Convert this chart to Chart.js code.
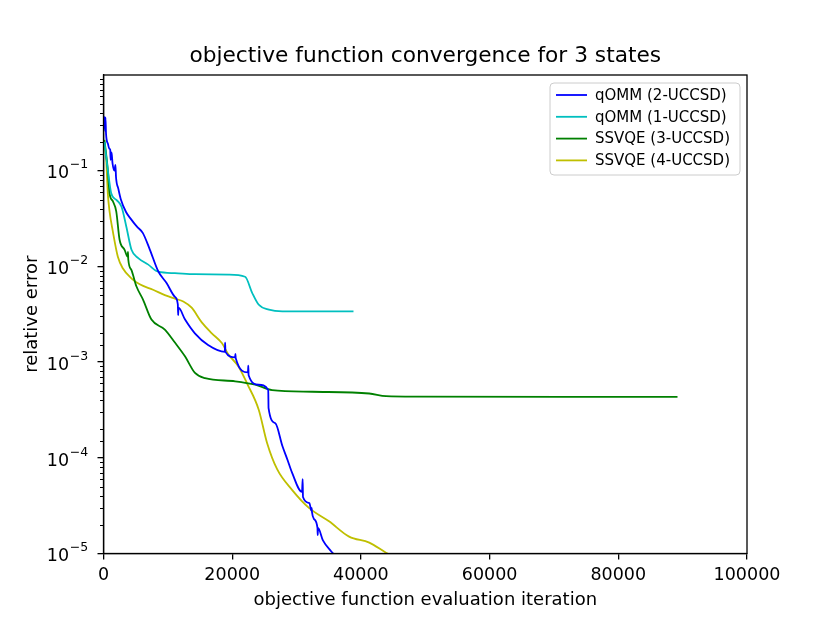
<!DOCTYPE html>
<html>
<head>
<meta charset="utf-8">
<script src="https://cdn.jsdelivr.net/npm/chart.js@4.4.1/dist/chart.umd.min.js"></script>
<style>
  html, body { margin: 0; padding: 0; background: #fff; }
  canvas { display: block; }
</style>
</head>
<body>
<canvas id="grafico" width="830" height="623"></canvas>
<script>
// series (x = evaluation iteration, y = relative error)
const qommTwoIter = [80, 250, 300, 400, 700, 900, 1050, 1100, 1250, 1400, 1700, 1850, 1950, 2300, 2700, 3500, 4300, 5200, 6100, 7200, 8500, 9800, 11100, 11550, 11600, 11650, 12650, 14200, 16250, 18850, 18900, 18950, 20450, 20500, 20550, 22450, 22500, 22550, 24100, 25600, 25650, 26700, 27800, 28600, 29300, 30850, 30950, 31000, 32000, 32300, 32350, 32400, 32700, 33250, 33290, 33330, 34100, 35400, 35800];
const qommTwoErr = [0.37, 0.26, 0.36, 0.24, 0.19, 0.17, 0.165, 0.13, 0.155, 0.12, 0.10, 0.115, 0.085, 0.065, 0.05, 0.037, 0.031, 0.026, 0.0224, 0.015, 0.0089, 0.0067, 0.0048, 0.0040, 0.0031, 0.0037, 0.0028, 0.0020, 0.00151, 0.00128, 0.0016, 0.00128, 0.00112, 0.00122, 0.00110, 0.00078, 0.00092, 0.00073, 0.00058, 0.00051, 0.00033, 0.00023, 0.000133, 0.000095, 0.00007, 0.000044, 0.00006, 0.000039, 0.0000337, 0.000028, 0.0000299, 0.000027, 0.000023, 0.0000185, 0.0000156, 0.0000185, 0.0000137, 0.0000105, 0.0000098];

const qommOneIter = [150, 670, 1200, 2000, 2800, 3550, 4350, 5400, 6900, 8500, 11100, 14200, 19400, 22000, 23100, 24100, 25700, 27800, 38850];
const qommOneErr = [0.20, 0.102, 0.058, 0.0496, 0.042, 0.026, 0.0149, 0.0122, 0.0105, 0.0088, 0.0085, 0.0083, 0.0082, 0.0078, 0.0053, 0.0040, 0.00353, 0.00339, 0.00339];

const ssvqeThreeIter = [150, 670, 940, 1450, 1980, 2500, 3280, 3750, 3800, 3850, 4330, 5110, 6140, 7450, 9530, 11100, 12660, 14220, 15780, 20470, 23590, 26200, 32450, 41300, 43900, 48600, 89200];
const ssvqeThreeErr = [0.21, 0.102, 0.058, 0.048, 0.0376, 0.019, 0.0149, 0.0126, 0.0142, 0.0118, 0.0092, 0.0062, 0.0045, 0.00278, 0.00219, 0.0016, 0.00115, 0.00077, 0.00068, 0.00063, 0.00058, 0.00051, 0.00049, 0.00047, 0.00044, 0.000435, 0.000433];

const ssvqeFourIter = [150, 420, 670, 940, 1450, 2230, 3020, 4330, 5625, 7700, 9530, 11100, 12400, 13700, 15270, 16830, 18390, 19420, 20980, 22300, 24110, 25420, 26980, 29330, 31920, 35050, 38170, 41300, 43900, 44500];
const ssvqeFourErr = [0.19, 0.13, 0.058, 0.0376, 0.0232, 0.0126, 0.0095, 0.0075, 0.0065, 0.0057, 0.0050, 0.0046, 0.0043, 0.0037, 0.0026, 0.0020, 0.00158, 0.0012, 0.0009, 0.0006, 0.00032, 0.000143, 0.000076, 0.000046, 0.00003, 0.0000217, 0.000015, 0.000013, 0.0000102, 0.0000097];

const nomesSeries = ['qOMM (2-UCCSD)', 'qOMM (1-UCCSD)', 'SSVQE (3-UCCSD)', 'SSVQE (4-UCCSD)'];
const coresSeries = ['#0000ff', '#00bfbf', '#008000', '#bfbf00'];

const xTicks = [0, 20000, 40000, 60000, 80000, 100000];
const yMin = 1e-5, yMax = 1;

const FONTE = '"DejaVu Sans", sans-serif';

function pontos(xs, ys) {
    return xs.map((x, i) => ({ x: x, y: ys[i] }));
}

function ehDecada(v) {
    const l = Math.log10(v);
    return Math.abs(l - Math.round(l)) < 1e-9;
}

// moldura, ticks menores, rotulos do eixo y, titulos e legenda
const extras = {
    id: 'extras',
    afterDraw(chart) {
        const ctx = chart.ctx;
        const a = chart.chartArea;
        const sy = chart.scales.y;
        ctx.save();

        // ticks menores do eixo log
        ctx.strokeStyle = '#000';
        ctx.lineWidth = 1;
        sy.ticks.forEach(t => {
            if (ehDecada(t.value)) return;
            const py = Math.round(sy.getPixelForValue(t.value)) + 0.5;
            ctx.beginPath();
            ctx.moveTo(a.left, py);
            ctx.lineTo(a.left - 3.5, py);
            ctx.stroke();
        });

        // rotulos 10^n com expoente sobrescrito
        ctx.fillStyle = '#000';
        ctx.textBaseline = 'alphabetic';
        sy.ticks.forEach(t => {
            if (!ehDecada(t.value) || t.value >= yMax) return;
            const py = sy.getPixelForValue(t.value);
            const exp = '\u2212' + String(Math.abs(Math.round(Math.log10(t.value))));
            const xr = a.left - 15.2;
            ctx.font = '12.5px ' + FONTE;
            const w = ctx.measureText(exp).width;
            ctx.textAlign = 'left';
            ctx.fillText(exp, xr - w, py - 2.3);
            ctx.font = '17.5px ' + FONTE;
            ctx.textAlign = 'right';
            ctx.fillText('10', xr - w - 0.8, py + 7.7);
        });

        // moldura
        ctx.lineWidth = 1.3;
        ctx.strokeRect(a.left, a.top, a.right - a.left, a.bottom - a.top);

        // titulo e rotulos dos eixos
        ctx.textAlign = 'center';
        ctx.font = '21.7px ' + FONTE;
        ctx.textBaseline = 'alphabetic';
        ctx.fillText('objective function convergence for 3 states', (a.left + a.right) / 2, a.top - 13);

        ctx.font = '18px ' + FONTE;
        ctx.textBaseline = 'middle';
        ctx.fillText('objective function evaluation iteration', (a.left + a.right) / 2, 600);

        ctx.save();
        ctx.translate(32, (a.top + a.bottom) / 2);
        ctx.rotate(-Math.PI / 2);
        ctx.fillText('relative error', 0, 0);
        ctx.restore();

        // legenda
        const lx = a.right - 197, ly = a.top + 8, lw = 190, lh = 92, r = 4;
        ctx.beginPath();
        ctx.moveTo(lx + r, ly);
        ctx.arcTo(lx + lw, ly, lx + lw, ly + lh, r);
        ctx.arcTo(lx + lw, ly + lh, lx, ly + lh, r);
        ctx.arcTo(lx, ly + lh, lx, ly, r);
        ctx.arcTo(lx, ly, lx + lw, ly, r);
        ctx.closePath();
        ctx.fillStyle = 'rgba(255,255,255,0.8)';
        ctx.fill();
        ctx.strokeStyle = '#cccccc';
        ctx.lineWidth = 1;
        ctx.stroke();

        ctx.font = '15px ' + FONTE;
        ctx.textAlign = 'left';
        ctx.textBaseline = 'middle';
        chart.data.datasets.forEach((ds, i) => {
            const yy = ly + 12 + i * 21.8;
            ctx.strokeStyle = ds.borderColor;
            ctx.lineWidth = 1.8;
            ctx.beginPath();
            ctx.moveTo(lx + 6, yy);
            ctx.lineTo(lx + 37, yy);
            ctx.stroke();
            ctx.fillStyle = '#000';
            ctx.fillText(ds.label, lx + 45, yy + 1);
        });

        ctx.restore();
    }
};

const series = [
    pontos(qommTwoIter, qommTwoErr),
    pontos(qommOneIter, qommOneErr),
    pontos(ssvqeThreeIter, ssvqeThreeErr),
    pontos(ssvqeFourIter, ssvqeFourErr)
];

const ctxGrafico = document.getElementById('grafico').getContext('2d');
const chartConvergencia = new Chart(ctxGrafico, {
    type: 'line',
    data: {
        datasets: series.map((dados, i) => ({
            label: nomesSeries[i],
            data: dados,
            borderColor: coresSeries[i],
            backgroundColor: coresSeries[i],
            borderWidth: 1.8,
            pointRadius: 0,
            cubicInterpolationMode: 'monotone',
            fill: false
        }))
    },
    options: {
        responsive: false,
        animation: false,
        devicePixelRatio: 1,
        layout: { padding: { top: 75, right: 83, left: 0, bottom: 0 } },
        plugins: {
            legend: { display: false },
            title: { display: false },
            tooltip: { enabled: false }
        },
        scales: {
            x: {
                type: 'linear',
                min: 0,
                max: 100000,
                afterFit: s => { s.height = 69.5; },
                afterBuildTicks: s => { s.ticks = xTicks.map(v => ({ value: v })); },
                ticks: {
                    color: '#000',
                    font: { family: FONTE, size: 17.5 },
                    padding: 5,
                    maxRotation: 0,
                    autoSkip: false,
                    callback: v => String(v)
                },
                grid: { drawOnChartArea: false, drawTicks: true, tickLength: 6, color: '#000', lineWidth: 1.3 },
                border: { display: true, color: '#000', width: 1.3 }
            },
            y: {
                type: 'logarithmic',
                min: yMin,
                max: yMax,
                afterFit: s => { s.width = 103.5; },
                ticks: {
                    autoSkip: false,
                    callback: () => ''
                },
                grid: {
                    drawOnChartArea: false,
                    drawTicks: true,
                    tickLength: 6,
                    lineWidth: 1.3,
                    color: c => (c.tick && ehDecada(c.tick.value) && c.tick.value < yMax) ? '#000' : 'rgba(0,0,0,0)'
                },
                border: { display: true, color: '#000', width: 1.3 }
            }
        }
    },
    plugins: [extras]
});
</script>
</body>
</html>
